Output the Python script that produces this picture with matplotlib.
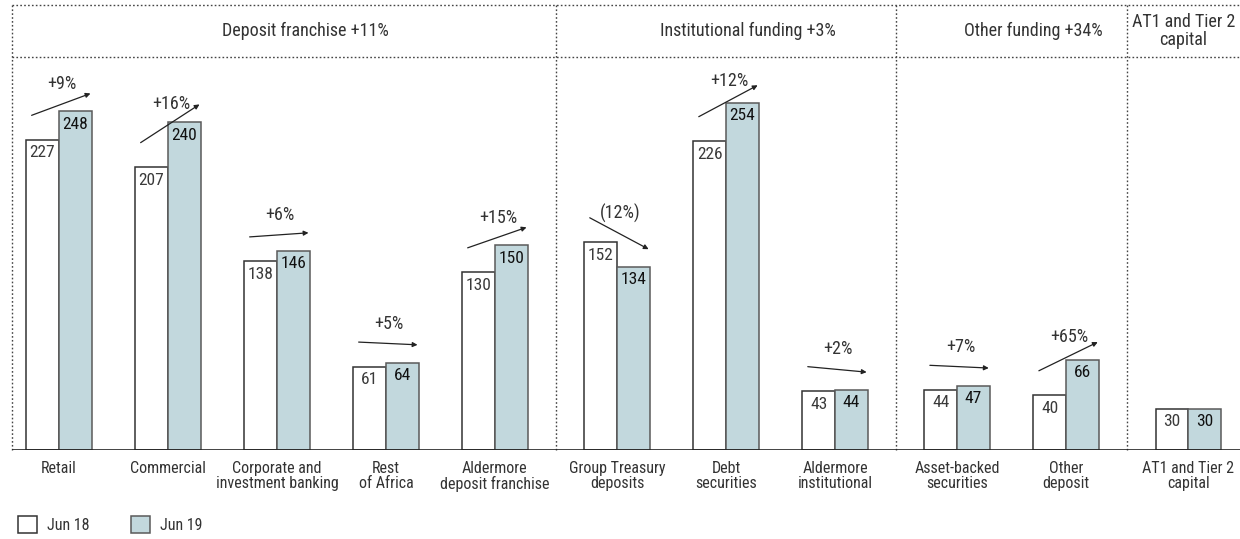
import matplotlib.pyplot as plt
from matplotlib import font_manager
from matplotlib.patches import Patch
import numpy as np

categories = ['Retail', 'Commercial', 'Corporate and\ninvestment banking', 'Rest\nof Africa',
              'Aldermore\ndeposit franchise', 'Group Treasury\ndeposits', 'Debt\nsecurities',
              'Aldermore\ninstitutional', 'Asset-backed\nsecurities', 'Other\ndeposit',
              'AT1 and Tier 2\ncapital']
jun18 = [227, 207, 138, 61, 130, 152, 226, 43, 44, 40, 30]
jun19 = [248, 240, 146, 64, 150, 134, 254, 44, 47, 66, 30]
changes = ['+9%', '+16%', '+6%', '+5%', '+15%', '(12%)', '+12%', '+2%', '+7%', '+65%', None]

sections = ['Deposit franchise +11%', 'Institutional funding +3%', 'Other funding +34%',
            'AT1 and Tier 2\ncapital']
section_sizes = [5, 3, 2, 1]

# pick whichever narrow face is installed
names = {f.name for f in font_manager.fontManager.ttflist}
narrow = [n for n in ['Liberation Sans Narrow', 'DejaVu Sans Condensed', 'Roboto Condensed',
                      'Open Sans Condensed'] if n in names]
FONT = narrow + ['Roboto', 'DejaVu Sans']
plt.rcParams['font.family'] = FONT
TXT = '#333333'
BLUE = '#c2d8dd'
DOT = (0, (1.2, 1.6))

# group positions: unit spacing, small extra gap between sections
gap = 0.12
pos = []
x = 0.0
for i, n in enumerate(section_sizes):
    for j in range(n):
        pos.append(x)
        x += 1
    x += gap
pos = np.array(pos)

fig = plt.figure(figsize=(12.4, 5.39), dpi=100)
ax = fig.add_axes([12 / 1240, 89 / 539, 1 - 12 / 1240, 445 / 539])
xmin, xmax = -0.43, 10.835
ymax = 445 / 1.366
ax.set_xlim(xmin, xmax)
ax.set_ylim(0, ymax)

w = 0.30
ax.bar(pos - w / 2, jun18, w, color='white', edgecolor='#333333', linewidth=1.1, zorder=3)
ax.bar(pos + w / 2, jun19, w, color=BLUE, edgecolor='#5a5a5a', linewidth=1.1, zorder=3)

for p, a, b in zip(pos, jun18, jun19):
    ax.text(p - w / 2, a - 4, str(a), ha='center', va='top', fontsize=12.5, color='#3a3a3a')
    ax.text(p + w / 2, b - 4, str(b), ha='center', va='top', fontsize=12.5, color='#111111')

# change arrows above each pair
for p, a, b, c in zip(pos, jun18, jun19, changes):
    if c is None:
        continue
    x0, y0 = p - 0.25, a + 18
    x1, y1 = p + 0.29, b + 13
    ax.annotate('', xy=(x1, y1), xytext=(x0, y0),
                arrowprops=dict(arrowstyle='-|>', lw=0.9, color='#222222',
                                mutation_scale=7, shrinkA=0, shrinkB=0))
    ax.text(p + 0.03, (y0 + y1) / 2 + 8, c, ha='center', va='bottom', fontsize=13, color=TXT)

# section frame: dotted separators and header band
header_y = (450 - 57) / 1.366
bounds = [xmin]
k = 0
for n in section_sizes[:-1]:
    k += n
    bounds.append((pos[k - 1] + pos[k]) / 2)
bounds.append(xmax)
for b in bounds[:-1]:
    ax.plot([b, b], [0, ymax], color='#444444', lw=1, ls=DOT, clip_on=False, zorder=1)
for yy in (header_y, ymax):
    ax.plot([xmin, xmax], [yy, yy], color='#444444', lw=1, ls=DOT, clip_on=False, zorder=1)

for i, name in enumerate(sections):
    shift = 0.2 if i < len(sections) - 1 else 0.0
    cx = (bounds[i] + bounds[i + 1]) / 2 + shift
    ax.text(cx, (header_y + ymax) / 2, name, ha='center', va='center', fontsize=13,
            color=TXT, linespacing=0.95)

ax.axhline(0, color='#222222', lw=1.2, zorder=4)
ax.set_xticks(pos)
ax.set_xticklabels(categories, fontsize=11.5, color=TXT, linespacing=1.0)
ax.tick_params(axis='x', length=0, pad=8)
ax.set_yticks([])
for s in ax.spines.values():
    s.set_visible(False)

handles = [Patch(facecolor='white', edgecolor='#333333', lw=1.1),
           Patch(facecolor=BLUE, edgecolor='#5a5a5a', lw=1.1)]
fig.legend(handles, ['Jun 18', 'Jun 19'], loc='lower left', bbox_to_anchor=(0.003, -0.015),
           ncol=2, frameon=False, fontsize=11.5, handlelength=1.2, handleheight=1.2,
           handletextpad=0.6, columnspacing=2.6, labelcolor=TXT)

fig.savefig('out.png', dpi=100)
